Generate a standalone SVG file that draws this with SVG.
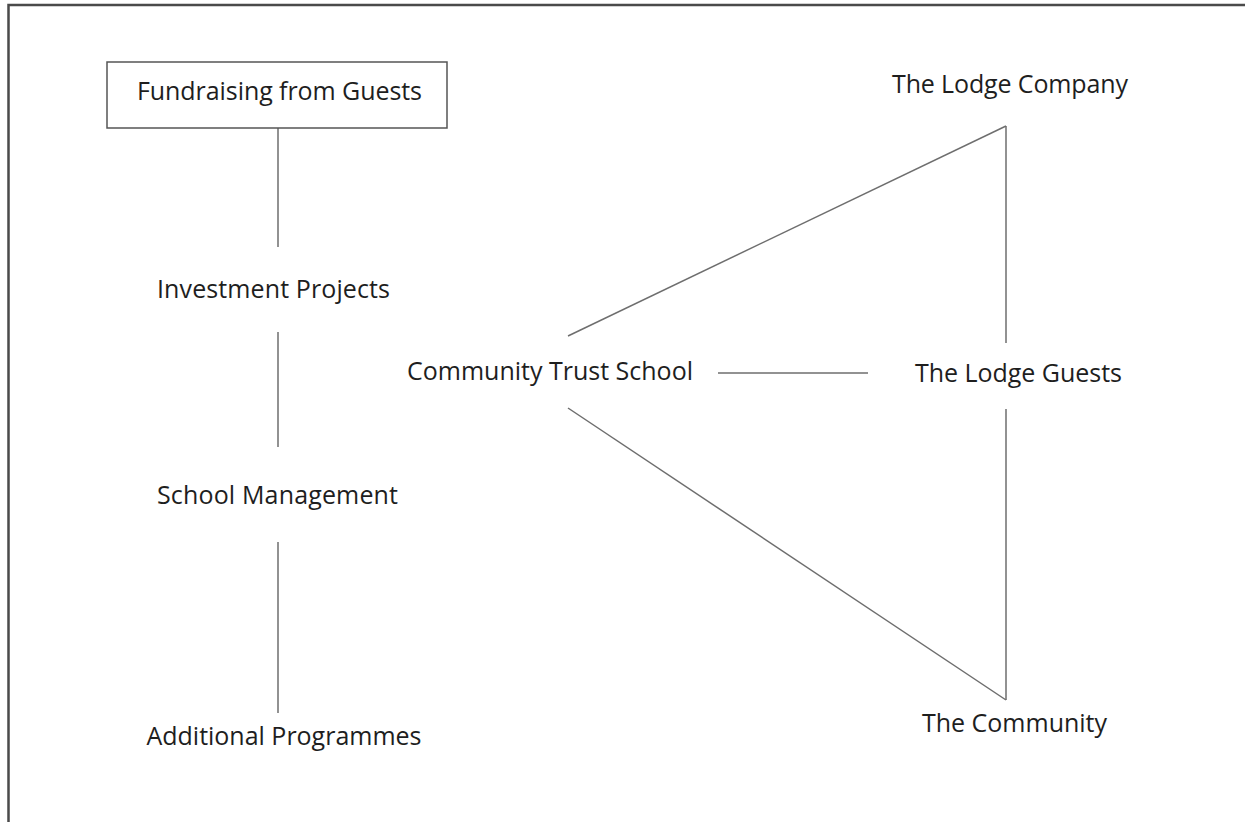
<svg xmlns="http://www.w3.org/2000/svg" width="1245" height="822" viewBox="0 0 1245 822">
<style>
text{font-family:"Open Sans","Noto Sans","Liberation Sans",sans-serif;font-size:25px;fill:#1e1e1e;text-anchor:middle}
.ln{stroke:#6e6e6e;stroke-width:1.5;fill:none}
.box{fill:#fff;stroke:#555;stroke-width:1.5}
</style>
<rect width="1245" height="822" fill="#fff"/>
<path d="M8.5 822 V5 H1245" fill="none" stroke="#4a4a4a" stroke-width="2.5"/>
<g id="connectors">
<line class="ln" x1="278" y1="128" x2="278" y2="247"/>
<line class="ln" x1="278" y1="332" x2="278" y2="447"/>
<line class="ln" x1="278" y1="542" x2="278" y2="713"/>
<line class="ln" x1="568" y1="336" x2="1006" y2="126"/>
<line class="ln" x1="1006" y1="126" x2="1006" y2="343"/>
<line class="ln" x1="1006" y1="409" x2="1006" y2="700"/>
<line class="ln" x1="568" y1="408" x2="1006" y2="700"/>
<line class="ln" x1="718" y1="373" x2="868" y2="373"/>
</g>
<g id="fundraising"><rect class="box" x="107" y="62" width="340" height="66"/><text x="279.5" y="100" textLength="285">Fundraising from Guests</text></g>
<g id="investment"><text x="273.5" y="298" textLength="233">Investment Projects</text></g>
<g id="management"><text x="277.5" y="504" textLength="241">School Management</text></g>
<g id="programmes"><text x="284" y="745" textLength="275">Additional Programmes</text></g>
<g id="school"><text x="550" y="380" textLength="286">Community Trust School</text></g>
<g id="company"><text x="1010" y="93" textLength="236">The Lodge Company</text></g>
<g id="guests"><text x="1018.5" y="382" textLength="207">The Lodge Guests</text></g>
<g id="community"><text x="1014.5" y="732" textLength="185">The Community</text></g>
</svg>
